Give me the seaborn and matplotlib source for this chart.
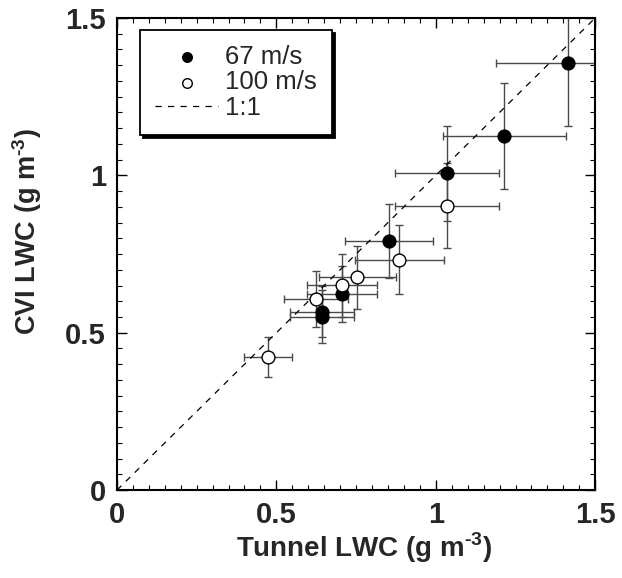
import matplotlib
matplotlib.use("Agg")
import matplotlib.pyplot as plt
import seaborn as sns
import pandas as pd
import numpy as np
from matplotlib.ticker import MultipleLocator

# 67 m/s (filled)
x67 = [0.644, 0.644, 0.705, 0.853, 1.035, 1.214, 1.415]
y67 = [0.551, 0.567, 0.623, 0.792, 1.006, 1.125, 1.356]
xerr67 = [0.10, 0.10, 0.11, 0.137, 0.164, 0.193, 0.226]
yerr67 = [0.085, 0.08, 0.09, 0.117, 0.151, 0.168, 0.20]

# 100 m/s (open)
x100 = [0.474, 0.625, 0.705, 0.754, 0.885, 1.035]
y100 = [0.422, 0.607, 0.651, 0.676, 0.732, 0.903]
xerr100 = [0.075, 0.10, 0.11, 0.12, 0.14, 0.164]
yerr100 = [0.063, 0.09, 0.10, 0.10, 0.11, 0.135]

one_to_one = [0.0, 1.5]
tick_vals = [0, 0.5, 1, 1.5]
tick_labels = ['0', '0.5', '1', '1.5']

sns.set_style("white")
plt.rcParams['font.family'] = ['Liberation Sans', 'DejaVu Sans']
plt.rcParams['mathtext.fontset'] = 'custom'
plt.rcParams['mathtext.rm'] = 'Liberation Sans:bold'
plt.rcParams['mathtext.bf'] = 'Liberation Sans:bold'

fig = plt.figure(figsize=(6.22, 5.78), dpi=100)
ax = fig.add_axes([0.188, 0.152, 0.769, 0.817])

ecol = '#4a4a4a'
ax.errorbar(x67, y67, xerr=xerr67, yerr=yerr67, fmt='none', ecolor=ecol,
            elinewidth=1.0, capsize=3, capthick=1.0, zorder=2)
ax.errorbar(x100, y100, xerr=xerr100, yerr=yerr100, fmt='none', ecolor=ecol,
            elinewidth=1.0, capsize=3, capthick=1.0, zorder=2)

df67 = pd.DataFrame({'x': x67, 'y': y67})
df100 = pd.DataFrame({'x': x100, 'y': y100})
sns.scatterplot(data=df67, x='x', y='y', ax=ax, marker='o', s=85,
                color='black', edgecolor='black', linewidth=1.0,
                label='67 m/s', zorder=4)
sns.scatterplot(data=df100, x='x', y='y', ax=ax, marker='o', s=85,
                color='white', edgecolor='black', linewidth=1.0,
                label='100 m/s', zorder=4)
ax.plot(one_to_one, one_to_one, linestyle=(0, (5, 5)), color='black',
        linewidth=0.9, label='1:1', zorder=3)

ax.set_xlim(0, 1.5)
ax.set_ylim(0, 1.5)
ax.xaxis.set_minor_locator(MultipleLocator(0.05))
ax.yaxis.set_minor_locator(MultipleLocator(0.05))
ax.set_xticks(tick_vals)
ax.set_xticklabels(tick_labels)
ax.set_yticks(tick_vals)
ax.set_yticklabels(tick_labels)
ax.tick_params(which='both', direction='in', top=True, right=True,
               bottom=True, left=True, color='black')
ax.tick_params(which='major', length=7, width=1.0, labelsize=21, pad=8)
ax.tick_params(which='minor', length=3.5, width=0.8)
for lab in ax.get_xticklabels() + ax.get_yticklabels():
    lab.set_fontweight('bold')
for sp in ax.spines.values():
    sp.set_visible(True)
    sp.set_color('black')
    sp.set_linewidth(1.5)

ax.set_xlabel('Tunnel LWC (g m$^{\\text{-3}}$)', fontsize=20, fontweight='bold', labelpad=4)
ax.set_ylabel('CVI LWC (g m$^{\\text{-3}}$)', fontsize=19.5, fontweight='bold', labelpad=12)
ax.xaxis.set_label_coords(0.517, -0.085)
ax.yaxis.set_label_coords(-0.152, 0.547)

leg = ax.legend(loc='upper left', bbox_to_anchor=(0.048, 0.975), borderaxespad=0,
                fontsize=18.5, frameon=True, fancybox=False, framealpha=1,
                edgecolor='black', shadow={'color': 'black', 'alpha': 1},
                handlelength=2.45, handletextpad=0.25, labelspacing=0.05,
                borderpad=0.6, markerscale=0.75)
leg.get_frame().set_linewidth(1.3)

fig.savefig('out.png', dpi=100)
